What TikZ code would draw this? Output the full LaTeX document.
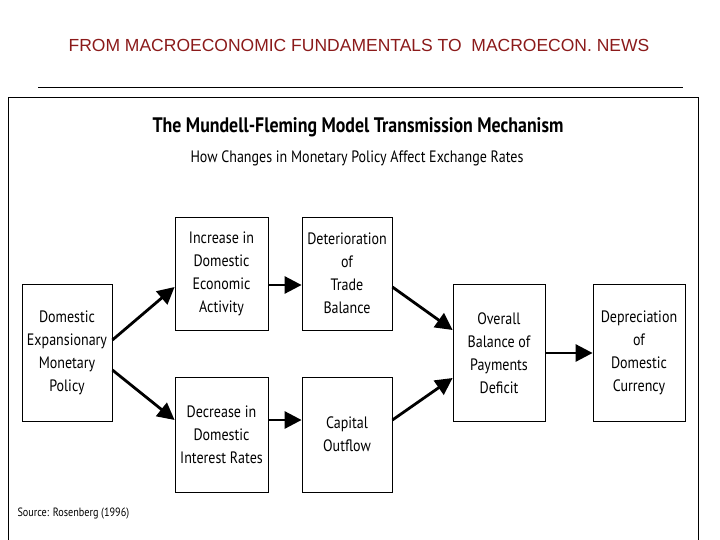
\documentclass[tikz,border=0pt]{standalone}
\usepackage{fontspec}
\setmainfont{PT Sans}
\newfontfamily\condf[FakeStretch=0.85]{PT Sans}
\newfontfamily\arialf{Liberation Sans}
\usetikzlibrary{arrows.meta}
\definecolor{titlered}{HTML}{8B1A1A}
\begin{document}
\begin{tikzpicture}[x=1pt,y=-1pt,
 box/.style={draw,line width=0.8pt,inner sep=0pt,align=center,font=\condf\fontsize{16.5}{23}\selectfont},
 arr/.style={line width=2.8pt,-{Triangle[length=17pt,width=17pt]}}]
\useasboundingbox (0,0) rectangle (720,540);
\node[titlered,font=\arialf\fontsize{17.5}{20}\selectfont] (t) at (359,45) {FROM MACROECONOMIC FUNDAMENTALS TO\ \ MACROECON. NEWS};
\draw[line width=1pt] (38,88) -- (683,88);
\draw[line width=1pt] (8,98) -- (698,98) -- (698,540);
\draw[line width=1pt] (8,98) -- (8,540);
\node[font=\condf\bfseries\fontsize{21}{24}\selectfont] (h) at (358,127) {The Mundell-Fleming Model Transmission Mechanism};
\node[font=\condf\fontsize{16.5}{19}\selectfont] (s) at (357,158) {How Changes in Monetary Policy Affect Exchange Rates};
\node[box,minimum width=90pt,minimum height=137pt] (A) at (67,353) {Domestic\\Expansionary\\Monetary\\Policy};
\node[box,minimum width=93pt,minimum height=113pt] (B) at (221.5,273.5) {Increase in\\Domestic\\Economic\\Activity};
\node[box,minimum width=90pt,minimum height=113pt] (C) at (347,273.5) {Deterioration\\of\\Trade\\Balance};
\node[box,minimum width=93pt,minimum height=115pt] (D) at (221.5,434.5) {Decrease in\\Domestic\\Interest Rates};
\node[box,minimum width=90pt,minimum height=115pt] (E) at (347,434.5) {Capital\\Outflow};
\node[box,minimum width=92pt,minimum height=137pt] (F) at (499,353) {Overall\\Balance of\\Payments\\Deficit};
\node[box,minimum width=92pt,minimum height=137pt] (G) at (639,353) {Depreciation\\of\\Domestic\\Currency};
\draw[arr] (A.east|-0,340) -- (B.west|-0,287);
\draw[arr] (A.east|-0,370) -- (D.west|-0,420);
\draw[arr] (B.east|-0,285) -- (C.west|-0,285);
\draw[arr] (D.east|-0,420) -- (E.west|-0,420);
\draw[arr] (C.east|-0,287) -- (F.west|-0,330);
\draw[arr] (E.east|-0,420) -- (F.west|-0,378);
\draw[arr] (F.east|-0,353) -- (G.west|-0,353);
\node[anchor=west,font=\condf\fontsize{12}{14}\selectfont] (src) at (14,514) {Source: Rosenberg (1996)};
\end{tikzpicture}
\end{document}
